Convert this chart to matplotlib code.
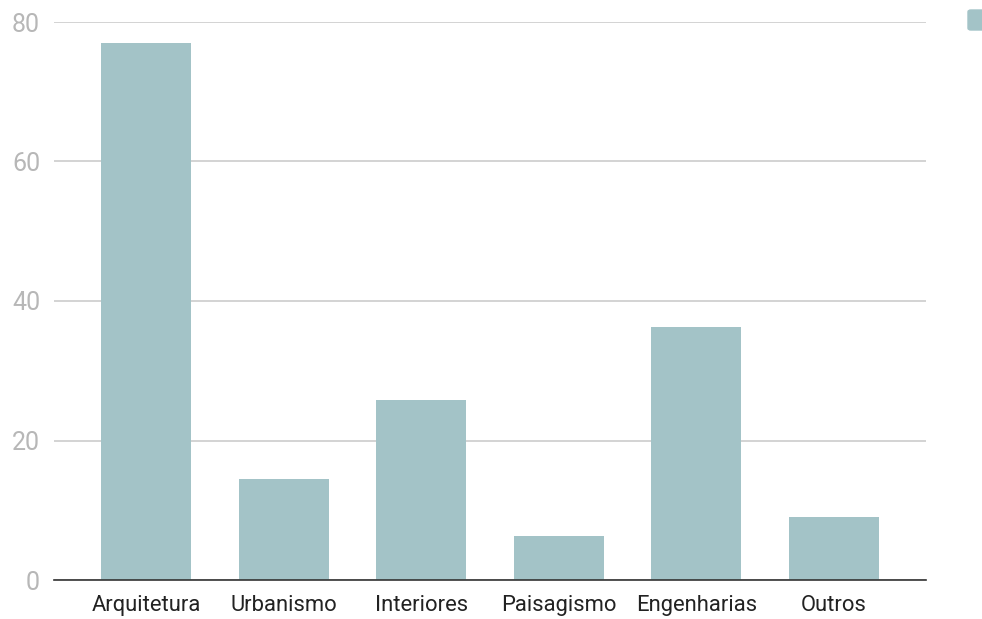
import numpy as np
import matplotlib.pyplot as plt
from matplotlib.patches import FancyBboxPatch

# data
categorias = ["Arquitetura", "Urbanismo", "Interiores", "Paisagismo", "Engenharias", "Outros"]
valores = [77.0, 14.5, 25.8, 6.3, 36.3, 9.0]
y_ticks = [0, 20, 40, 60, 80]

cor_barra = "#a3c3c7"

plt.rcParams['font.family'] = ['Roboto', 'DejaVu Sans']

fig = plt.figure(figsize=(9.82, 6.19), dpi=100)
ax = fig.add_axes([54/982, 1 - 580/619, (926-54)/982, (580-22)/619])

x = np.arange(len(categorias))
ax.bar(x, valores, width=0.654, color=cor_barra, zorder=3)

ax.set_xlim(-0.67, 5.67)
ax.set_ylim(0, 80)
ax.set_yticks(y_ticks)
ax.set_xticks(x)
ax.set_xticklabels(categorias, fontsize=15.8, color="#222222")
ax.tick_params(axis="y", labelsize=18, labelcolor="#b7b7b7", length=0, pad=10)
ax.tick_params(axis="x", length=0, pad=11)

ax.grid(axis="y", color="#cccccc", linewidth=1.2, zorder=0)
for s in ["top", "right", "left"]:
    ax.spines[s].set_visible(False)
ax.spines["bottom"].set_color("#333333")
ax.spines["bottom"].set_linewidth(1.2)
ax.spines["bottom"].set_zorder(4)

# legend swatch, cut off at the right edge
fig.patches.append(FancyBboxPatch((968/982, 1 - 30/619), 20/982, 20/619,
                                  boxstyle="round,pad=0,rounding_size=0.003",
                                  transform=fig.transFigure, color=cor_barra))

fig.savefig("out.png", dpi=100)
